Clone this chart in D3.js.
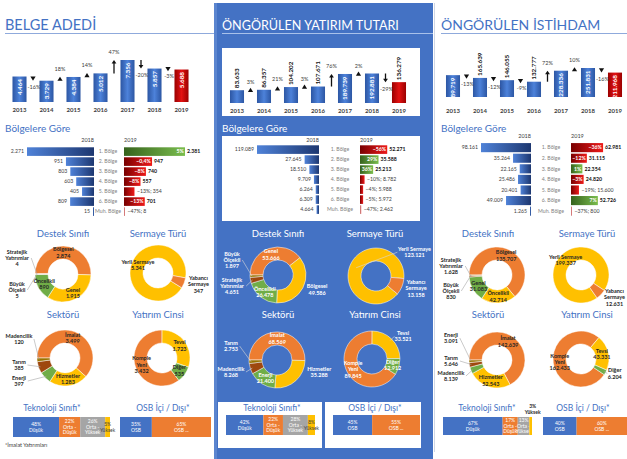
<!DOCTYPE html>
<html>
<head>
<meta charset="utf-8">
<script src="https://cdn.jsdelivr.net/npm/d3@7"></script>
<style>
  body { margin: 0; background: #fff; }
  svg { display: block; font-family: Lato, "Open Sans", "DejaVu Sans", sans-serif; }
</style>
</head>
<body>
<script>
// ---- data ----
const years = ["2013", "2014", "2015", "2016", "2017", "2018", "2019"];
const belgeAdedi = [4464, 3729, 4384, 5012, 7356, 5857, 5688];
const belgeChange = [-16, 18, 14, 47, -20, -3];
const yatirimTutari = [83633, 86357, 104202, 107671, 189739, 192881, 136279];
const yatirimChange = [3, 21, 3, 76, 2, -29];
const istihdam = [189719, 165639, 146055, 132777, 228336, 251831, 211968];
const istihdamChange = [-13, -12, -9, 72, 10, -16];

const regions = ["1. Bölge", "2. Bölge", "3. Bölge", "4. Bölge", "5. Bölge", "6. Bölge", "Muh. Bölge"];
const belgeReg2018 = [2271, 951, 803, 603, 405, 809, 15];
const belgeReg2019 = [2381, 947, 740, 557, 354, 701, 8];
const belgeRegPct = [5, -0.4, -8, -8, -13, -13, -47];
const yatirimReg2018 = [119089, 27645, 18510, 9709, 6264, 6309, 4664];
const yatirimReg2019 = [52271, 35588, 25213, 8782, 5988, 5972, 2462];
const yatirimRegPct = [-56, 29, 36, -10, -4, -5, -47];
const istihdamReg2018 = [98161, 35264, 22165, 25486, 20401, 49009, 1265];
const istihdamReg2019 = [62981, 31115, 22354, 24820, 15600, 52726, 800];
const istihdamRegPct = [-36, -12, 1, -3, -19, 7, -37];

const destekCats = ["Bölgesel", "Genel", "Öncelikli", "Stratejik\nYatırımlar", "Büyük\nÖlçekli"];
const belgeDestek = [2874, 1915, 890, 4, 5];
const yatirimDestek = [49586, 53666, 26478, 4651, 1897];
const istihdamDestek = [135707, 31083, 42714, 1628, 830];

const sermayeCats = ["Yerli Sermaye", "Yabancı\nSermaye"];
const belgeSermaye = [5341, 347];
const yatirimSermaye = [123121, 13158];
const istihdamSermaye = [199337, 12631];

const sektorCats = ["İmalat", "Hizmetler", "Enerji", "Tarım", "Madencilik"];
const belgeSektor = [3499, 1283, 397, 385, 120];
const yatirimSektor = [68569, 35288, 21400, 2753, 8268];
const istihdamSektor = [142639, 52543, 3091, 5646, 8139];

const cinsCats = ["Komple\nYeni", "Tevsi", "Diğer"];
const belgeCins = [3432, 1723, 535];
const yatirimCins = [89845, 33521, 12912];
const istihdamCins = [162433, 43331, 6204];

const teknoCats = ["Düşük", "Orta -\nDüşük", "Orta -\nYüksek", "Yüksek"];
const belgeTekno = [48, 22, 26, 5];
const yatirimTekno = [42, 22, 28, 8];
const istihdamTekno = [67, 17, 13, 3];

const osbCats = ["OSB", "OSB ..."];
const belgeOsb = [35, 65];
const yatirimOsb = [45, 55];
const istihdamOsb = [40, 60];

// ---- setup ----
const W = 627, H = 459;
const BLUE = "#4472C4";
const rankColors = ["#ED7D31", "#FFC000", "#70AD47", "#9E480E", "#997300"];
const sermayeColors = ["#FFC000", "#ED7D31"];
const teknoColors = ["#4472C4", "#ED7D31", "#A5A5A5", "#FFC000"];
const osbColors = ["#4472C4", "#ED7D31"];

const tr = d3.formatLocale({decimal: ",", thousands: ".", grouping: [3], currency: ["", "₺"]});
const fmt = tr.format(",d");
const pctFmt = v => (Math.abs(v) < 1 && v !== 0 ? tr.format(".1f")(v) : tr.format("d")(v)) + "%";

const svg = d3.select("body").append("svg").attr("width", W).attr("height", H);
svg.append("rect").attr("width", W).attr("height", H).attr("fill", "#fff");

const defs = svg.append("defs");
function grad(id, stops, vertical) {
  const lg = defs.append("linearGradient").attr("id", id)
      .attr("x1", 0).attr("y1", 0).attr("x2", vertical ? 0 : 1).attr("y2", vertical ? 1 : 0);
  stops.forEach((c, i) => lg.append("stop").attr("offset", i / (stops.length - 1)).attr("stop-color", c));
}
grad("barBlue", ["#2c56a3", "#4d82da", "#2c56a3"]);
grad("barRed", ["#9a0000", "#e31212", "#9a0000"]);
grad("regBlue", ["#4f82d8", "#1d3770"]);
grad("regRed", ["#780000", "#ee1a1a"]);
grad("regGreen", ["#36621c", "#7abd4e"]);

// multi-line text centred on (x, y)
function multi(g, lines, x, y, o) {
  const size = o.size || 5.5, lh = o.lh || 6.4;
  const t = g.append("text").attr("text-anchor", o.anchor || "middle")
      .attr("font-size", size).attr("font-weight", o.weight || 700).attr("fill", o.fill || "#262626");
  const y0 = -(lines.length - 1) * lh / 2 + size * 0.35;
  lines.forEach((l, i) => t.append("tspan").attr("x", x).attr("y", y + y0 + i * lh).text(l));
  return t;
}

// ---- panels ----
const panels = [
  {
    title: "BELGE ADEDİ", tx: 5, tsize: 14.5, line: [5, 214], dark: false,
    top: {xr: [6, 195], base: 102, hmax: 42, yearY: 112, inside: [1, 1, 1, 1, 1, 1, 1]},
    reg: {hdrY: 142, y0: 151, step: 10.2, end18: 94, start19: 124, lab: 108, max18: 2271, w18: 67, max19: 2060, w19: 61},
    subX: [63, 158], cx: [63, 158], sx: [65, 162], dy: [274, 358],
    tekno: {x0: 13, x1: 110, y: 417, h: 20, tx: 52}, osb: {x0: 120, x1: 211, y: 417, h: 20, tx: 163}
  },
  {
    title: "ÖNGÖRÜLEN YATIRIM TUTARI", tx: 222, tsize: 12.6, line: [222, 433], dark: true,
    top: {xr: [223.5, 412.5], base: 103, hmax: 29.5, yearY: 113, inside: [0, 0, 0, 0, 1, 1, 0]},
    reg: {hdrY: 141.5, y0: 149, step: 10.2, end18: 319, start19: 360, lab: 340, max18: 119089, w18: 62, max19: 119089, w19: 62},
    subX: [278, 375], cx: [278, 376], sx: [277, 372], dy: [275, 360],
    tekno: {x0: 226, x1: 315, y: 415, h: 20, tx: 272}, osb: {x0: 333, x1: 420, y: 415, h: 20, tx: 375}
  },
  {
    title: "ÖNGÖRÜLEN İSTİHDAM", tx: 441, tsize: 14, line: [441, 627], dark: false,
    top: {xr: [439.5, 628.5], base: 97, hmax: 29, yearY: 113, inside: [1, 0, 0, 0, 1, 1, 1]},
    reg: {hdrY: 138, y0: 147, step: 10.8, end18: 531, start19: 571, lab: 551, max18: 98161, w18: 50, max19: 98161, w19: 50},
    subX: [488, 587], cx: [497, 581], sx: [497, 581], dy: [275, 360],
    tekno: {x0: 443, x1: 532, y: 417, h: 18, tx: 487}, osb: {x0: 543, x1: 627, y: 417, h: 18, tx: 583}
  }
];

// middle blue panel and its white boxes
svg.append("rect").attr("x", 214).attr("y", 3).attr("width", 219).attr("height", H - 3).attr("fill", BLUE);
svg.append("rect").attr("x", 214).attr("y", 3).attr("width", 3).attr("height", H - 3).attr("fill", "#5b85cf");
[[222, 48, 198, 68], [222, 136, 198, 85], [218, 402, 104, 46], [325, 402, 96, 46]].forEach(r =>
  svg.append("rect").attr("x", r[0]).attr("y", r[1]).attr("width", r[2]).attr("height", r[3]).attr("fill", "#fff"));
svg.append("rect").attr("x", 434).attr("y", 3).attr("width", 1).attr("height", H - 10).attr("fill", "#d0d7e5");

// ---- titles ----
panels.forEach(p => {
  svg.append("text").attr("x", p.tx).attr("y", 29.5).attr("font-size", p.tsize)
      .attr("fill", p.dark ? "#fff" : BLUE).text(p.title);
  svg.append("line").attr("x1", p.line[0]).attr("x2", p.line[1]).attr("y1", 33.5).attr("y2", 33.5)
      .attr("stroke", p.dark ? "#a9c1ea" : "#8faadc").attr("stroke-width", 1);
  svg.append("text").attr("x", p.tx).attr("y", 131.5).attr("font-size", 10)
      .attr("fill", p.dark ? "#fff" : BLUE).text("Bölgelere Göre");
});

// ---- top yearly bars ----
function topChart(p, vals, changes) {
  const c = p.top;
  const g = svg.append("g");
  const x = d3.scaleBand().domain(years).range(c.xr).paddingInner(0.48).paddingOuter(0.24);
  const y = d3.scaleLinear().domain([0, d3.max(vals)]).range([c.base, c.base - c.hmax]);
  g.selectAll("rect").data(vals).join("rect")
      .attr("x", (d, i) => x(years[i])).attr("y", d => y(d))
      .attr("width", x.bandwidth()).attr("height", d => c.base - y(d))
      .attr("fill", (d, i) => i === vals.length - 1 ? "url(#barRed)" : "url(#barBlue)");
  vals.forEach((v, i) => {
    const inside = c.inside[i];
    const bx = x(years[i]) + x.bandwidth() / 2 + 2.2;
    g.append("text")
        .attr("transform", `translate(${bx},${inside ? y(v) + 2.5 : y(v) - 2}) rotate(-90)`)
        .attr("text-anchor", inside ? "end" : "start")
        .attr("font-size", 6.3).attr("font-weight", 700)
        .attr("fill", inside ? "#fff" : "#111").text(fmt(v));
  });
  g.selectAll(".yr").data(years).join("text")
      .attr("x", d => x(d) + x.bandwidth() / 2).attr("y", c.yearY)
      .attr("text-anchor", "middle").attr("font-size", 6).attr("font-weight", 700)
      .attr("fill", "#404040").text(d => d);
  changes.forEach((ch, i) => {
    const mx = (x(years[i]) + x(years[i + 1]) + x.bandwidth()) / 2;
    const y1 = y(vals[i]), y2 = y(vals[i + 1]);
    const s = y2 < y1 ? -1 : 1;
    if (Math.abs(y2 - y1) < 7) {
      const ym = (y1 + y2) / 2;
      g.append("path").attr("fill", "#111")
          .attr("d", `M${mx - 2.6},${ym - s * 2}L${mx + 2.6},${ym - s * 2}L${mx},${ym + s * 2.2}Z`);
    } else {
      g.append("line").attr("x1", mx).attr("x2", mx).attr("y1", y1).attr("y2", y2 - s * 3)
          .attr("stroke", "#111").attr("stroke-width", 1.3);
      g.append("path").attr("fill", "#111")
          .attr("d", `M${mx - 2.4},${y2 - s * 3.5}L${mx + 2.4},${y2 - s * 3.5}L${mx},${y2}Z`);
    }
    g.append("text").attr("x", mx + (ch < 0 ? 1 : 0))
        .attr("y", ch < 0 ? Math.max(y1, y2) + 8.5 : Math.min(y1, y2) - 6)
        .attr("text-anchor", "middle").attr("font-size", 5.5).attr("fill", "#404040")
        .text(ch + "%");
  });
}

// ---- regional comparison bars ----
function regionChart(p, v18, v19, pct) {
  const c = p.reg;
  const g = svg.append("g");
  const rows = d3.scaleBand().domain(regions).range([c.y0 - c.step / 2, c.y0 + c.step * (regions.length - 0.5)]).padding(0.14);
  const x18 = d3.scaleLinear().domain([0, c.max18]).range([0, c.w18]);
  const x19 = d3.scaleLinear().domain([0, c.max19]).range([0, c.w19]).clamp(true);
  g.append("text").attr("x", c.end18).attr("y", c.hdrY).attr("text-anchor", "end")
      .attr("font-size", 5.5).attr("fill", "#404040").text("2018");
  g.append("text").attr("x", c.start19).attr("y", c.hdrY)
      .attr("font-size", 5.5).attr("fill", "#404040").text("2019");
  regions.forEach((r, i) => {
    const yy = rows(r), bh = rows.bandwidth(), cy = yy + bh / 2 + 1.8;
    const w18 = Math.max(1, x18(v18[i])), w19 = Math.max(1, x19(v19[i]));
    g.append("rect").attr("x", c.end18 - w18).attr("y", yy).attr("width", w18).attr("height", bh)
        .attr("fill", "url(#regBlue)");
    g.append("text").attr("x", c.end18 - w18 - 3).attr("y", cy).attr("text-anchor", "end")
        .attr("font-size", 5.2).attr("fill", "#404040").text(fmt(v18[i]));
    g.append("text").attr("x", c.lab).attr("y", cy).attr("text-anchor", "middle")
        .attr("font-size", 5.2).attr("fill", "#7f7f7f").text(r);
    const up = pct[i] > 0;
    g.append("rect").attr("x", c.start19).attr("y", yy).attr("width", w19).attr("height", bh)
        .attr("fill", up ? "url(#regGreen)" : "url(#regRed)")
        .attr("opacity", w19 < 2 ? 0.55 : 1);
    const t = g.append("text").attr("x", c.start19 + w19 - 1.2).attr("y", cy).attr("text-anchor", "end")
        .attr("font-size", 5.2).attr("font-weight", 700).attr("fill", "#fff").text(pctFmt(pct[i]));
    const tw = t.node().getComputedTextLength();
    if (tw <= w19 + 1) {
      g.append("text").attr("x", c.start19 + w19 + 2).attr("y", cy)
          .attr("font-size", 5.2).attr("font-weight", 700).attr("fill", "#111").text(fmt(v19[i]));
    } else {
      t.remove();
      g.append("text").attr("x", c.start19 + w19 + 2.5).attr("y", cy)
          .attr("font-size", 5.2).attr("fill", "#404040").text(pctFmt(pct[i]) + "; " + fmt(v19[i]));
    }
  });
}

// ---- doughnuts ----
const rOut = 28, rIn = 15;
function donut(p, cx, cy, cats, vals, colors, start, modes) {
  const g = svg.append("g").attr("transform", `translate(${cx},${cy})`);
  const items = cats.map((c, i) => ({cat: c, value: vals[i]})).sort((a, b) => b.value - a.value);
  const a0 = start * Math.PI / 180;
  const arcs = d3.pie().value(d => d.value).sort(null).startAngle(a0).endAngle(a0 + 2 * Math.PI)(items);
  const arc = d3.arc().innerRadius(rIn).outerRadius(rOut);
  const mid = d3.arc().innerRadius((rIn + rOut) / 2).outerRadius((rIn + rOut) / 2);
  g.selectAll("path").data(arcs).join("path").attr("d", arc)
      .attr("fill", (d, i) => colors[i]).attr("stroke", "#fff").attr("stroke-width", 0.5);
  const col = p.dark ? "#fff" : "#262626";
  const lineCol = p.dark ? "#d9d9d9" : "#a6a6a6";
  arcs.forEach((a, i) => {
    const m = modes[i];
    const am = (a.startAngle + a.endAngle) / 2;
    const lines = a.data.cat.split("\n").concat(fmt(a.data.value));
    if (m === "in") {
      const [px, py] = mid.centroid(a);
      multi(g, lines, px, py, {fill: col});
    } else if (m.out) {
      const ang = m.at !== undefined ? m.at * Math.PI / 180 : am;
      const r = rOut + (m.gap || 4);
      const px = r * Math.sin(ang), py = -r * Math.cos(ang);
      const t = multi(g, lines, 0, 0, {fill: col});
      const w = t.node().getBBox().width;
      const side = Math.sin(ang) >= 0 ? 1 : -1;
      t.attr("transform", `translate(${px + side * w / 2},${py})`);
      if (m.line) {
        const [qx, qy] = m.at !== undefined ? mid.centroid(a) : [(rOut - 2) * Math.sin(am), -(rOut - 2) * Math.cos(am)];
        g.append("line").attr("x1", qx).attr("y1", qy).attr("x2", px).attr("y2", py)
            .attr("stroke", lineCol).attr("stroke-width", 0.6);
      }
    } else {
      const lx = -46, ly = m.lead;
      const t = multi(g, lines, lx, ly, {fill: col});
      const w = t.node().getBBox().width;
      g.append("line")
          .attr("x1", (rOut - 2) * Math.sin(am)).attr("y1", -(rOut - 2) * Math.cos(am))
          .attr("x2", lx + w / 2 + 1.5).attr("y2", ly)
          .attr("stroke", lineCol).attr("stroke-width", 0.6);
    }
  });
}

function subtitle(p, x, y, text) {
  svg.append("text").attr("x", x).attr("y", y).attr("text-anchor", "middle")
      .attr("font-size", 9.5).attr("fill", p.dark ? "#fff" : BLUE).text(text);
}

// ---- 100% stacked strips ----
function strip(p, c, title, cats, vals, colors) {
  const g = svg.append("g");
  svg.append("text").attr("x", c.tx).attr("y", 410.5).attr("text-anchor", "middle")
      .attr("font-size", 8.5).attr("fill", BLUE).text(title);
  const x = d3.scaleLinear().domain([0, d3.sum(vals)]).range([c.x0, c.x1]);
  let acc = 0;
  vals.forEach((v, i) => {
    const xa = x(acc), xb = x(acc + v);
    acc += v;
    g.append("rect").attr("x", xa).attr("y", c.y).attr("width", xb - xa).attr("height", c.h).attr("fill", colors[i]);
    const lines = [v + "%"].concat(cats[i].split("\n"));
    const fill = colors[i] === "#FFC000" ? "#404040" : "#fff";
    if (xb - xa < 4) {
      multi(g, lines, (xa + xb) / 2 + 2, c.y - 8, {size: 5, lh: 5.6, fill: "#262626"});
    } else {
      multi(g, lines, (xa + xb) / 2, c.y + c.h / 2, {size: 5, lh: 5.6, fill, weight: 400});
    }
  });
}

// ---- draw ----
const tops = [[belgeAdedi, belgeChange], [yatirimTutari, yatirimChange], [istihdam, istihdamChange]];
const regs = [[belgeReg2018, belgeReg2019, belgeRegPct], [yatirimReg2018, yatirimReg2019, yatirimRegPct],
              [istihdamReg2018, istihdamReg2019, istihdamRegPct]];
panels.forEach((p, k) => {
  topChart(p, tops[k][0], tops[k][1]);
  regionChart(p, regs[k][0], regs[k][1], regs[k][2]);
  subtitle(p, p.subX[0], 236.5, "Destek Sınıfı");
  subtitle(p, p.subX[1], 236.5, "Sermaye Türü");
  subtitle(p, p.subX[0], 317.5, "Sektörü");
  subtitle(p, p.subX[1], 317.5, "Yatırım Cinsi");
});

const L = panels[0], M = panels[1], R = panels[2];
const IN = "in";
donut(L, L.cx[0], L.dy[0], destekCats, belgeDestek, rankColors, -90, [IN, IN, IN, {lead: 16}, {lead: -16}]);
donut(L, L.cx[1], L.dy[0] - 1, sermayeCats, belgeSermaye, sermayeColors, 122, [IN, {out: 1}]);
donut(L, L.sx[0], L.dy[1], sektorCats, belgeSektor, rankColors, -90, [IN, IN, {lead: 23}, {lead: 7}, {lead: -19}]);
donut(L, L.sx[1], L.dy[1], cinsCats, belgeCins, rankColors, -217, [IN, IN, IN]);

donut(M, M.cx[0], M.dy[0], destekCats, yatirimDestek, rankColors, -90, [IN, {out: 1}, IN, {lead: 11}, {lead: -15}]);
donut(M, M.cx[1], M.dy[0] + 1, sermayeCats, yatirimSermaye, sermayeColors, 130, [{out: 1, at: 42, line: true}, {out: 1}]);
donut(M, M.sx[0], M.dy[1], sektorCats, yatirimSektor, rankColors, -90, [IN, {out: 1, at: 112}, IN, {lead: 12}, {lead: -14}]);
donut(M, M.sx[1], M.dy[1] - 1, cinsCats, yatirimCins, rankColors, -237, [IN, {out: 1, line: true}, IN]);

donut(R, R.cx[0], R.dy[0], destekCats, istihdamDestek, rankColors, -90, [IN, IN, IN, {lead: -9}, {lead: 16}]);
donut(R, R.cx[1], R.dy[0], sermayeCats, istihdamSermaye, sermayeColors, 145, [IN, {out: 1}]);
donut(R, R.sx[0], R.dy[1], sektorCats, istihdamSektor, rankColors, -90, [IN, IN, {lead: 16}, {lead: 1}, {lead: -22}]);
donut(R, R.sx[1], R.dy[1] - 1, cinsCats, istihdamCins, rankColors, -236, [IN, IN, {out: 1, line: true, gap: 2}]);

const teknos = [belgeTekno, yatirimTekno, istihdamTekno];
const osbs = [belgeOsb, yatirimOsb, istihdamOsb];
panels.forEach((p, k) => {
  strip(p, p.tekno, "Teknoloji Sınıfı*", teknoCats, teknos[k], teknoColors);
  strip(p, p.osb, "OSB İçi / Dışı*", osbCats, osbs[k], osbColors);
});

svg.append("text").attr("x", 5).attr("y", 447).attr("font-size", 5.5).attr("fill", "#404040")
    .text("*İmalat Yatırımları");
</script>
</body>
</html>
